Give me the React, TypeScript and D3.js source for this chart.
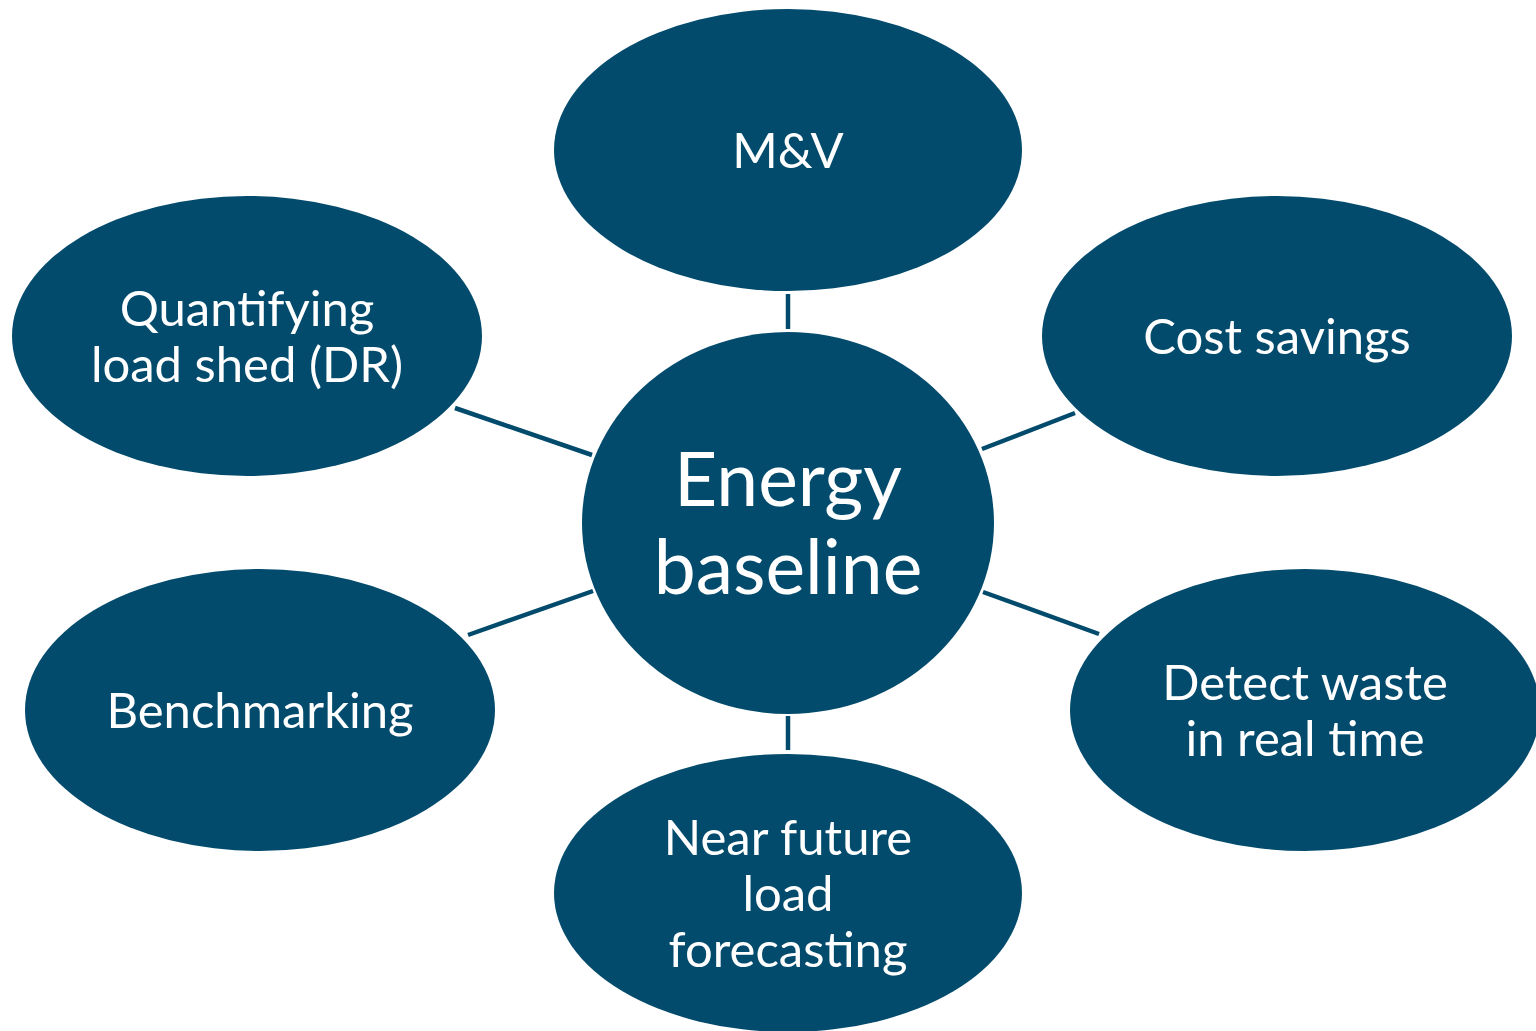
import React from "react";
import * as d3 from "d3";

const W = 1536;
const H = 1031;
const FILL = "#034b6c";

const centerLabel = ["Energy", "baseline"];
const centerShape = { cx: 788, cy: 523, rx: 206, ry: 191 };

const satelliteLabels = [
  ["M&V"],
  ["Cost savings"],
  ["Detect waste", "in real time"],
  ["Near future", "load", "forecasting"],
  ["Benchmarking"],
  ["Quantifying", "load shed (DR)"],
];
const satelliteShapes = [
  { cx: 788, cy: 150, rx: 234, ry: 141 },
  { cx: 1277, cy: 336, rx: 235, ry: 140 },
  { cx: 1305, cy: 710, rx: 235, ry: 141 },
  { cx: 788, cy: 893, rx: 234, ry: 139 },
  { cx: 260, cy: 710, rx: 235, ry: 141 },
  { cx: 247, cy: 336, rx: 235, ry: 140 },
];
const connectors: [number, number, number, number][] = [
  [788, 294, 788, 329],
  [982, 449, 1075, 413],
  [983, 592, 1099, 634],
  [788, 716, 788, 750],
  [468, 635, 593, 591],
  [455, 408, 592, 455],
];

const FONT = "Lato, 'Open Sans', sans-serif";

export default function App() {
  const line = d3.line();
  return (
    <svg
      width={W}
      height={H}
      style={{ position: "absolute", left: 0, top: 0, background: "#fff" }}
    >
      {connectors.map((c, i) => (
        <path
          key={"c" + i}
          d={line([[c[0], c[1]], [c[2], c[3]]]) || ""}
          stroke={FILL}
          strokeWidth={4.5}
          fill="none"
        />
      ))}
      {satelliteShapes.map((s, i) => {
        const lines = satelliteLabels[i];
        const lh = 56;
        const fs = 49;
        const start = s.cy - ((lines.length - 1) * lh) / 2 + 18;
        return (
          <g key={"s" + i}>
            <ellipse cx={s.cx} cy={s.cy} rx={s.rx} ry={s.ry} fill={FILL} />
            {lines.map((t, j) => (
              <text
                key={j}
                x={s.cx}
                y={start + j * lh}
                textAnchor="middle"
                fill="#fff"
                fontFamily={FONT}
                fontSize={fs}
              >
                {t}
              </text>
            ))}
          </g>
        );
      })}
      <ellipse
        cx={centerShape.cx}
        cy={centerShape.cy}
        rx={centerShape.rx}
        ry={centerShape.ry}
        fill={FILL}
      />
      {centerLabel.map((t, j) => (
        <text
          key={"e" + j}
          x={centerShape.cx}
          y={506 + j * 88}
          textAnchor="middle"
          fill="#fff"
          fontFamily={FONT}
          fontSize={75}
        >
          {t}
        </text>
      ))}
    </svg>
  );
}
